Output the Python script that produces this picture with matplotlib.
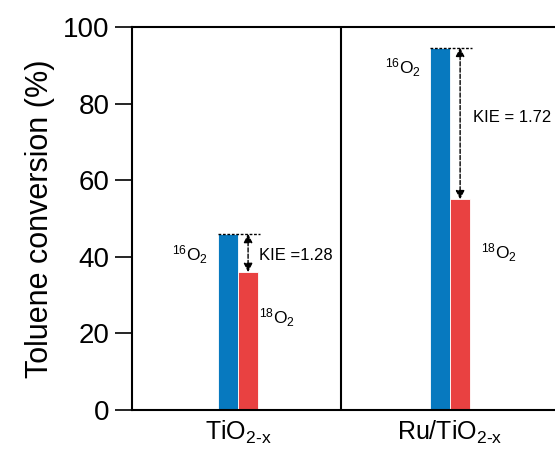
import numpy as np
import matplotlib.pyplot as plt

plt.rcParams['font.family'] = ['Liberation Sans', 'DejaVu Sans']
plt.rcParams['mathtext.fontset'] = 'custom'
plt.rcParams['mathtext.rm'] = 'Liberation Sans'
plt.rcParams['mathtext.it'] = 'Liberation Sans:italic'
plt.rcParams['mathtext.bf'] = 'Liberation Sans:bold'

# conversion data for the two catalysts
catalysts = ['TiO$_{\\text{2-x}}$', 'Ru/TiO$_{\\text{2-x}}$']
conv_16o2 = [46.0, 94.6]
conv_18o2 = [36.0, 55.0]
kie_labels = ['KIE =1.28', 'KIE = 1.72']

blue = '#0779bf'
red = '#e94141'
width = 0.095

fig = plt.figure(figsize=(5.55, 4.53), dpi=100)
ax = fig.add_axes([132 / 555, 43 / 453, 1.0 - 132 / 555, 383 / 453])

x = np.arange(len(catalysts))
ax.bar(x - width / 2, conv_16o2, width, color=blue, edgecolor='white', linewidth=0.6)
ax.bar(x + width / 2, conv_18o2, width, color=red, edgecolor='white', linewidth=0.6)

for i in range(len(catalysts)):
    # dashed reference line at the 16O2 level and the KIE arrow
    ax.plot([x[i] - width, x[i] + width * 1.1], [conv_16o2[i], conv_16o2[i]],
            color='black', ls='--', lw=1.0, dashes=(2.0, 1.2))
    ax.annotate('', xy=(x[i] + width / 2, conv_18o2[i]), xytext=(x[i] + width / 2, conv_16o2[i]),
                arrowprops=dict(arrowstyle='<|-|>', color='black', ls=(0, (3, 1.5)), lw=1.0,
                                mutation_scale=13, shrinkA=0, shrinkB=0))

ax.text(-0.226, 40.5, '$^{16}$O$_2$', ha='center', va='center', fontsize=12.5)
ax.text(0.184, 24.0, '$^{18}$O$_2$', ha='center', va='center', fontsize=12.5)
ax.text(0.10, 40.3, kie_labels[0], ha='left', va='center', fontsize=12)
ax.text(0.778, 89.3, '$^{16}$O$_2$', ha='center', va='center', fontsize=12.5)
ax.text(1.231, 41.0, '$^{18}$O$_2$', ha='center', va='center', fontsize=12.5)
ax.text(1.108, 76.5, kie_labels[1], ha='left', va='center', fontsize=12)

ax.axvline(0.485, color='black', lw=1.5)

ax.set_xlim(-0.5, 1.495)
ax.set_ylim(0, 100)
ax.set_xticks(x)
ax.set_xticklabels(catalysts, fontsize=18)
ax.tick_params(axis='x', length=0, pad=6)
ax.set_yticks([0, 20, 40, 60, 80, 100])
ax.tick_params(axis='y', labelsize=20, length=12, width=1.2, direction='out', pad=4)
ax.set_ylabel('Toluene conversion (%)', fontsize=22, labelpad=6)

ax.spines['right'].set_visible(False)
for s in ['left', 'top', 'bottom']:
    ax.spines[s].set_linewidth(1.5)

fig.savefig('out.png', dpi=100)
